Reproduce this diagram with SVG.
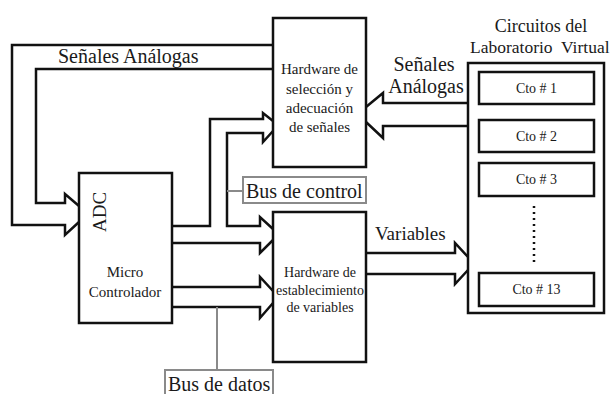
<svg xmlns="http://www.w3.org/2000/svg" width="611" height="394" viewBox="0 0 611 394" font-family="'Liberation Serif', 'Times New Roman', Times, serif">
<style>
.box{fill:#fff;stroke:#111;stroke-width:2.5}
.ln{fill:none;stroke:#111;stroke-width:2.5;stroke-linejoin:miter}
.gbox{fill:#fff;stroke:#8a8a8a;stroke-width:2}
.gln{fill:none;stroke:#8a8a8a;stroke-width:2}
text{fill:#1a1a1a}
.c{text-anchor:middle}
</style>
<rect width="611" height="394" fill="#fff"/>
<g id="connectors">
  <polyline class="ln" points="273,45 12,45 12,225 65,225 65,235 79,222"/>
  <polyline class="ln" points="273,69 36,69 36,203 65,203 65,194 79,206"/>
  <polyline class="ln" points="172,226 210,226 210,119 263,119 263,113 273,121"/>
  <polyline class="ln" points="273,131 263,142 263,133 227,133 227,226 260,226 260,217 273,229"/>
  <polyline class="ln" points="172,243 260,243 260,253 273,240"/>
  <polyline class="ln" points="172,287 260,287 260,277 273,291"/>
  <polyline class="ln" points="172,307 260,307 260,318 273,303"/>
  <polyline class="ln" points="366,253 455,253 455,243 468,257"/>
  <polyline class="ln" points="366,274 455,274 455,284 468,270"/>
  <polyline class="ln" points="468,103 383,103 383,93 366,107"/>
  <polyline class="ln" points="468,126 383,126 383,138 366,122"/>
  <line class="gln" x1="227" y1="191" x2="243" y2="191"/>
  <line class="gln" x1="217" y1="307" x2="217" y2="370"/>
</g>
<g id="hw-seleccion">
  <rect class="box" x="273" y="18" width="93" height="149"/>
  <text class="c" x="319.5" y="74" font-size="15">Hardware de</text>
  <text class="c" x="319.5" y="94" font-size="15">selección y</text>
  <text class="c" x="319.5" y="113" font-size="15">adecuación</text>
  <text class="c" x="319.5" y="132" font-size="15">de señales</text>
</g>
<g id="hw-establecimiento">
  <rect class="box" x="273" y="212" width="93" height="150"/>
  <text class="c" x="320" y="277" font-size="14">Hardware de</text>
  <text class="c" x="320" y="295" font-size="14">establecimiento</text>
  <text class="c" x="320" y="312" font-size="14">de variables</text>
</g>
<g id="microcontrolador">
  <rect class="box" x="79" y="173" width="93" height="150"/>
  <text class="c" transform="translate(106,212) rotate(-90)" font-size="19">ADC</text>
  <text class="c" x="125" y="277" font-size="15">Micro</text>
  <text class="c" x="125" y="297" font-size="15">Controlador</text>
</g>
<g id="circuitos">
  <text class="c" x="541" y="32" font-size="18">Circuitos del</text>
  <text x="470" y="53" font-size="17.5" xml:space="preserve">Laboratorio  Virtual</text>
  <rect class="box" x="468" y="63" width="136" height="250"/>
  <g id="cto1"><rect class="box" x="479" y="72" width="115" height="32"/><text class="c" x="536.5" y="93" font-size="14">Cto # 1</text></g>
  <g id="cto2"><rect class="box" x="479" y="120" width="115" height="32"/><text class="c" x="536.5" y="141" font-size="14">Cto # 2</text></g>
  <g id="cto3"><rect class="box" x="479" y="163" width="115" height="33"/><text class="c" x="536.5" y="184" font-size="14">Cto # 3</text></g>
  <line x1="534" y1="206" x2="534" y2="265" stroke="#111" stroke-width="2.5" stroke-dasharray="2 4"/>
  <g id="cto13"><rect class="box" x="479" y="273" width="115" height="33"/><text class="c" x="536.5" y="294" font-size="14">Cto # 13</text></g>
</g>
<g id="labels">
  <text x="58" y="63" font-size="20">Señales Análogas</text>
  <text class="c" x="424" y="71" font-size="20">Señales</text>
  <text class="c" x="426" y="93" font-size="20">Análogas</text>
  <text x="375" y="240" font-size="19">Variables</text>
</g>
<g id="bus-control">
  <rect class="gbox" x="243" y="177" width="123" height="26"/>
  <text x="246" y="198" font-size="20">Bus de control</text>
</g>
<g id="bus-datos">
  <rect class="gbox" x="165" y="370" width="108" height="30"/>
  <text x="168" y="391" font-size="20">Bus de datos</text>
</g>
</svg>
